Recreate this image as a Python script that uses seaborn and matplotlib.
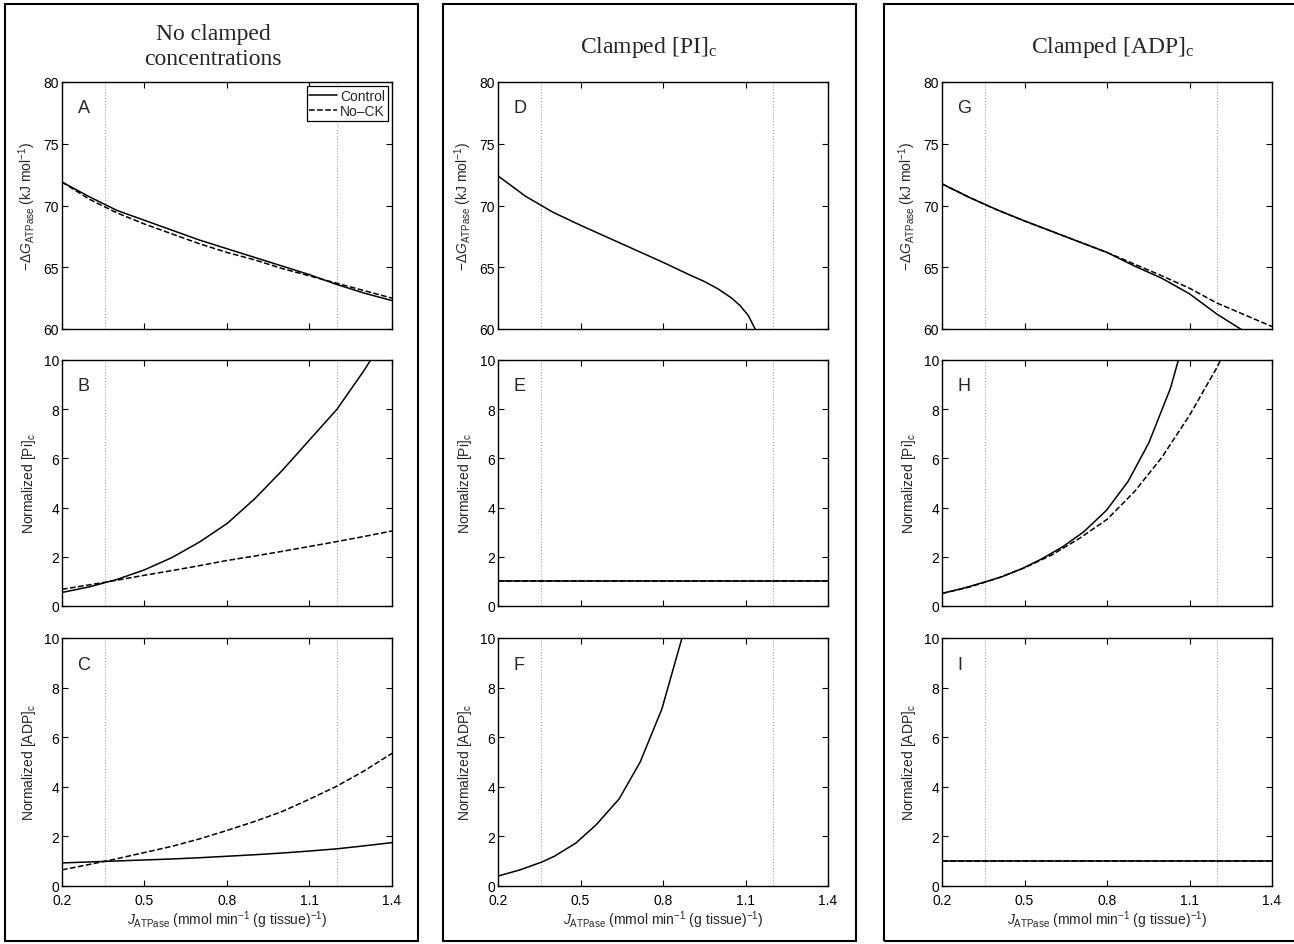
import numpy as np
import pandas as pd
import matplotlib
matplotlib.use("Agg")
import matplotlib.pyplot as plt
from matplotlib.patches import Rectangle
import seaborn as sns

# ---------------- data ----------------
J_grid = [0.2, 0.3, 0.4, 0.5, 0.6, 0.7, 0.8, 0.9, 1.0, 1.1, 1.2, 1.3, 1.4]

# Column 1: no clamped concentrations
A_control = [71.9, 70.7, 69.6, 68.8, 68.0, 67.2, 66.5, 65.8, 65.1, 64.4, 63.6, 62.9, 62.3]
A_nock    = [71.9, 70.5, 69.4, 68.5, 67.7, 66.9, 66.2, 65.6, 64.9, 64.3, 63.7, 63.1, 62.5]
B_control = [0.55, 0.78, 1.08, 1.47, 1.97, 2.60, 3.35, 4.35, 5.50, 6.75, 8.00, 9.60, 11.4]
B_nock    = [0.68, 0.86, 1.05, 1.25, 1.44, 1.64, 1.85, 2.03, 2.22, 2.42, 2.62, 2.83, 3.05]
C_control = [0.93, 0.97, 1.01, 1.05, 1.09, 1.14, 1.20, 1.26, 1.33, 1.41, 1.50, 1.62, 1.75]
C_nock    = [0.65, 0.87, 1.10, 1.35, 1.60, 1.90, 2.24, 2.60, 3.00, 3.50, 4.03, 4.65, 5.35]

# Column 2: clamped [Pi]c
D_J       = [0.2, 0.3, 0.4, 0.5, 0.6, 0.7, 0.8, 0.9, 0.95, 1.0, 1.05, 1.08, 1.11, 1.135]
D_control = [72.4, 70.75, 69.45, 68.4, 67.4, 66.4, 65.4, 64.35, 63.85, 63.25, 62.5, 61.9, 61.1, 60.0]
E_control = [1.0, 1.0, 1.0, 1.0, 1.0, 1.0, 1.0, 1.0, 1.0, 1.0, 1.0, 1.0, 1.0]
E_nock    = [1.0, 1.0, 1.0, 1.0, 1.0, 1.0, 1.0, 1.0, 1.0, 1.0, 1.0, 1.0, 1.0]
F_J       = [0.2, 0.28, 0.36, 0.405, 0.483, 0.558, 0.641, 0.717, 0.796, 0.869, 0.95]
F_control = [0.4, 0.65, 0.97, 1.2, 1.73, 2.48, 3.52, 5.0, 7.14, 10.0, 14.0]

# Column 3: clamped [ADP]c
G_control = [71.75, 70.65, 69.65, 68.75, 67.9, 67.05, 66.2, 65.1, 64.1, 62.85, 61.2, 59.8, 58.3]
G_nock    = [71.75, 70.65, 69.65, 68.75, 67.9, 67.05, 66.2, 65.25, 64.3, 63.3, 62.1, 61.15, 60.2]
H_J       = [0.2, 0.28, 0.36, 0.42, 0.493, 0.56, 0.638, 0.716, 0.798, 0.877, 0.952, 1.031, 1.11]
H_control = [0.51, 0.73, 0.99, 1.2, 1.53, 1.9, 2.4, 3.02, 3.89, 5.07, 6.63, 8.86, 12.0]
H_nock    = [0.51, 0.77, 1.12, 1.55, 2.08, 2.75, 3.52, 4.65, 6.05, 7.75, 9.70, 12.0, 14.5]
I_control = [1.0, 1.0, 1.0, 1.0, 1.0, 1.0, 1.0, 1.0, 1.0, 1.0, 1.0, 1.0, 1.0]
I_nock    = [1.0, 1.0, 1.0, 1.0, 1.0, 1.0, 1.0, 1.0, 1.0, 1.0, 1.0, 1.0, 1.0]

ref_lines = [0.355, 1.2]
x_ticks = [0.2, 0.5, 0.8, 1.1, 1.4]
col_titles = ["No clamped\nconcentrations", "Clamped [PI]$_\\mathregular{c}$",
              "Clamped [ADP]$_\\mathregular{c}$"]
letters = [["A", "B", "C"], ["D", "E", "F"], ["G", "H", "I"]]
ylabels = ["$-\\Delta G_\\mathregular{ATPase}$ (kJ mol$^\\mathregular{-1}$)",
           "Normalized [Pi]$_\\mathregular{c}$",
           "Normalized [ADP]$_\\mathregular{c}$"]
xlabel = "$J_\\mathregular{ATPase}$ (mmol min$^\\mathregular{-1}$ (g tissue)$^\\mathregular{-1}$)"

# ---------------- style ----------------
sns.set_theme(style="ticks")
plt.rcParams["font.family"] = ["Liberation Sans", "DejaVu Sans"]
plt.rcParams["mathtext.fontset"] = "custom"
plt.rcParams["mathtext.rm"] = "Liberation Sans"
plt.rcParams["mathtext.it"] = "Liberation Sans:italic"
plt.rcParams["mathtext.bf"] = "Liberation Sans:bold"
plt.rcParams["axes.edgecolor"] = "black"
plt.rcParams["axes.linewidth"] = 1.0

W, H = 1294, 945
fig = plt.figure(figsize=(W / 100, H / 100), dpi=100)

col_left = [62, 498, 942]
rows = [(83, 330), (361, 607), (639, 887)]
ax_w = 330

def fr(x0, y_top, w, y_bot):
    return [x0 / W, 1 - y_bot / H, w / W, (y_bot - y_top) / H]

series = {
    (0, 0): [(J_grid, A_control, "-"), (J_grid, A_nock, "--")],
    (0, 1): [(J_grid, B_control, "-"), (J_grid, B_nock, "--")],
    (0, 2): [(J_grid, C_control, "-"), (J_grid, C_nock, "--")],
    (1, 0): [(D_J, D_control, "-")],
    (1, 1): [(J_grid, E_control, "-"), (J_grid, E_nock, "--")],
    (1, 2): [(F_J, F_control, "-")],
    (2, 0): [(J_grid, G_control, "-"), (J_grid, G_nock, "--")],
    (2, 1): [(H_J, H_control, "-"), (J_grid, H_nock, "--")],
    (2, 2): [(J_grid, I_control, "-"), (J_grid, I_nock, "--")],
}

FS = 10
for c in range(3):
    for r in range(3):
        ax = fig.add_axes(fr(col_left[c], rows[r][0], ax_w, rows[r][1]))
        for xv in ref_lines:
            ax.axvline(xv, color="0.6", ls=(0, (1, 2)), lw=0.7, zorder=1)
        for i, (xs, ys, ls) in enumerate(series[(c, r)]):
            df = pd.DataFrame({"J": xs, "v": ys})
            lab = None
            if c == 0 and r == 0:
                lab = "Control" if ls == "-" else "No\u2013CK"
            sns.lineplot(data=df, x="J", y="v", ax=ax, color="black",
                         linestyle=ls, lw=1.1, estimator=None, sort=False,
                         label=lab, legend=False, zorder=3)
        ax.set_xlim(0.2, 1.4)
        if r == 0:
            ax.set_ylim(60, 80)
            ax.set_yticks([60, 65, 70, 75, 80])
        else:
            ax.set_ylim(0, 10)
            ax.set_yticks([0, 2, 4, 6, 8, 10])
        ax.set_xticks(x_ticks)
        ax.tick_params(direction="in", top=True, right=True, length=4,
                       width=0.8, labelsize=FS, colors="black", pad=2)
        ax.tick_params(axis="x", pad=5)
        if r == 2:
            ax.set_xticklabels([f"{t:g}" for t in x_ticks])
            ax.set_xlabel(xlabel, fontsize=FS, labelpad=1)
        else:
            ax.set_xticklabels([])
            ax.set_xlabel("")
        ax.set_ylabel(ylabels[r], fontsize=FS, labelpad=4)
        for s in ax.spines.values():
            s.set_linewidth(1.0)
            s.set_color("black")
        ax.text(0.047, 0.895, letters[c][r], transform=ax.transAxes,
                fontsize=13, ha="left", va="center")
        if c == 0 and r == 0:
            leg = ax.legend(loc="upper right", fontsize=FS, frameon=True,
                            fancybox=False, edgecolor="black", framealpha=1,
                            borderpad=0.2, labelspacing=0.1,
                            handlelength=2.0, handletextpad=0.2,
                            borderaxespad=0.3)
            leg.get_frame().set_linewidth(0.9)

# column boxes
boxes = [(5, 418), (443, 856), (884, 1300)]
for x0, x1 in boxes:
    fig.patches.append(Rectangle((x0 / W, 1 - 942 / H), (x1 - x0) / W, 937 / H,
                                 transform=fig.transFigure, fill=False,
                                 edgecolor="black", lw=1.5))

# column titles (serif)
title_pos = [(213, 47), (648, 47), (1113, 47)]
for (tx, ty), t in zip(title_pos, col_titles):
    fig.text(tx / W, 1 - ty / H, t, ha="center", va="center",
             family=["Liberation Serif", "DejaVu Serif"], fontsize=17,
             linespacing=1.3)

fig.savefig("out.png", dpi=100)
